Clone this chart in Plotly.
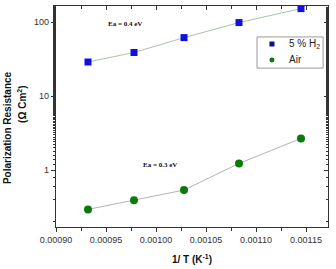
import plotly.graph_objects as go

inv_T = [0.000932, 0.000978, 0.001028, 0.001083, 0.001145]
r_h2 = [29, 39, 62, 99, 153]
r_air = [0.294, 0.39, 0.537, 1.23, 2.68]
series_names = ["5 % H<sub>2</sub>", "Air"]
x_ticks = [0.00090, 0.00095, 0.00100, 0.00105, 0.00110, 0.00115]
x_ticklabels = ["0.00090", "0.00095", "0.00100", "0.00105", "0.00110", "0.00115"]
y_ticks = [1, 10, 100]
y_ticklabels = ["1", "10", "100"]

xr = [0.000900, 0.001172]
yr = [-0.77, 2.22]

blue = "#1010e0"
green = "#0a7a0a"

fig = go.Figure()
fig.add_trace(go.Scatter(x=inv_T, y=r_h2, mode="lines+markers", name=series_names[0],
                         showlegend=False,
                         line=dict(color="#a9c4a9", width=1),
                         marker=dict(symbol="square", size=7, color=blue)))
fig.add_trace(go.Scatter(x=inv_T, y=r_air, mode="lines+markers", name=series_names[1],
                         showlegend=False,
                         line=dict(color="#b4b4b4", width=1),
                         marker=dict(symbol="circle", size=8, color=green)))
# invisible trace to draw mirrored top/right axes with inside ticks
fig.add_trace(go.Scatter(x=[inv_T[0]], y=[r_h2[0]], xaxis="x2", yaxis="y2",
                         mode="markers", marker=dict(opacity=0), showlegend=False,
                         hoverinfo="skip"))

axfont = dict(family="Liberation Sans, Arial", size=9, color="#333333")
titlefont = dict(family="Liberation Sans, Arial", size=10, color="#111")
legfont = dict(family="Liberation Sans, Arial", size=10, color="#222222")

# compact legend box (paper coords)
lx0, lx1, ly0, ly1 = 0.739, 0.982, 0.719, 0.860
mx, my1, my2 = 0.794, 0.828, 0.756
hw, hh = 0.0092, 0.0113
shapes = [
    dict(type="rect", xref="paper", yref="paper", x0=lx0, x1=lx1, y0=ly0, y1=ly1,
         line=dict(color="#999999", width=1), fillcolor="white", layer="above"),
    dict(type="rect", xref="paper", yref="paper", x0=mx - hw, x1=mx + hw, y0=my1 - hh, y1=my1 + hh,
         line=dict(width=0), fillcolor="#10108a", layer="above"),
    dict(type="circle", xref="paper", yref="paper", x0=mx - hw, x1=mx + hw, y0=my2 - hh, y1=my2 + hh,
         line=dict(width=0), fillcolor=green, layer="above"),
]

fig.update_layout(
    width=336, height=269,
    margin=dict(l=56, r=8, t=6, b=42),
    paper_bgcolor="white", plot_bgcolor="white",
    showlegend=False,
    shapes=shapes,
    xaxis=dict(range=xr, tickvals=x_ticks, ticktext=x_ticklabels,
               ticks="outside", ticklen=4, tickwidth=1, tickcolor="#333",
               minor=dict(ticks="outside", ticklen=3, dtick=0.000025, tickcolor="#333"),
               showline=True, linecolor="#333", linewidth=1.2, showgrid=False,
               zeroline=False, tickfont=axfont,
               title=dict(text="<b>1/ T (K<sup>-1</sup>)</b>", font=titlefont, standoff=12)),
    yaxis=dict(type="log", range=yr, tickvals=y_ticks, ticktext=y_ticklabels,
               ticks="outside", ticklen=4, tickwidth=1, tickcolor="#333",
               minor=dict(ticks="outside", ticklen=2, tickcolor="#333"),
               showline=True, linecolor="#333", linewidth=1.2, showgrid=False,
               zeroline=False, tickfont=axfont),
    xaxis2=dict(range=xr, overlaying="x", side="top", tickvals=x_ticks,
                showticklabels=False, ticks="inside", ticklen=4, tickcolor="#333",
                minor=dict(ticks="inside", ticklen=3, dtick=0.000025, tickcolor="#333"),
                showline=True, linecolor="#333", linewidth=1.2, showgrid=False, zeroline=False),
    yaxis2=dict(type="log", range=yr, overlaying="y", side="right", tickvals=y_ticks,
                showticklabels=False, ticks="inside", ticklen=4, tickcolor="#333",
                minor=dict(ticks="inside", ticklen=2, tickcolor="#333"),
                showline=True, linecolor="#333", linewidth=1.2, showgrid=False, zeroline=False),
    annotations=[
        dict(x=0.000969, y=1.97, xref="x", yref="y", text="<b>Ea = 0.4 eV</b>",
             showarrow=False, font=dict(family="Liberation Serif, Times New Roman", size=7, color="#111")),
        dict(x=0.001004, y=0.07, xref="x", yref="y", text="<b>Ea = 0.3 eV</b>",
             showarrow=False, font=dict(family="Liberation Serif, Times New Roman", size=7, color="#111")),
        dict(x=-0.176, y=0.448, xref="paper", yref="paper", text="<b>Polarization Resistance</b>",
             textangle=-90, showarrow=False, xanchor="center", yanchor="middle", font=titlefont),
        dict(x=-0.125, y=0.557, xref="paper", yref="paper", text="<b>(Ω Cm<sup>2</sup>)</b>",
             textangle=-90, showarrow=False, xanchor="center", yanchor="middle", font=titlefont),
        dict(x=0.849, y=my1, xref="paper", yref="paper", text=series_names[0],
             showarrow=False, xanchor="left", yanchor="middle", font=legfont),
        dict(x=0.849, y=my2, xref="paper", yref="paper", text=series_names[1],
             showarrow=False, xanchor="left", yanchor="middle", font=legfont),
    ],
)
fig.write_html("out.html")
